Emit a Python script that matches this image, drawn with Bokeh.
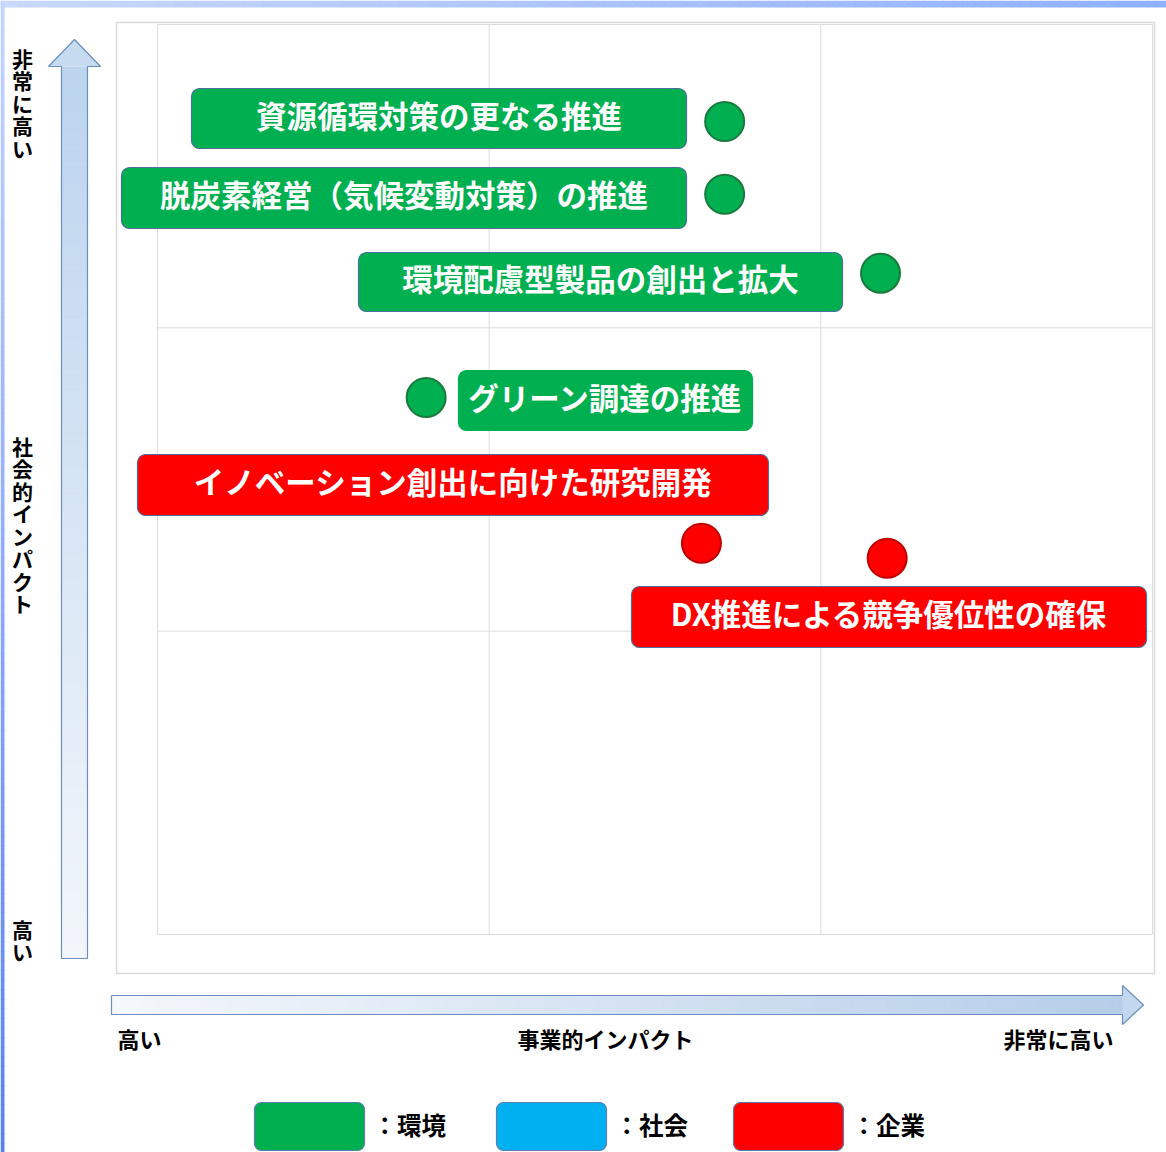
import numpy as np
from bokeh.plotting import figure
from bokeh.models import Range1d
from bokeh.embed import file_html
from bokeh.resources import INLINE
from bokeh.core.properties import value

# ---------------- data ----------------
labels = [
    "資源循環対策の更なる推進",
    "脱炭素経営（気候変動対策）の推進",
    "環境配慮型製品の創出と拡大",
    "グリーン調達の推進",
    "イノベーション創出に向けた研究開発",
    "DX推進による競争優位性の確保",
]
categories = ["環境", "環境", "環境", "環境", "企業", "企業"]
business_impact = [1.71, 1.71, 2.18, 0.81, 1.64, 2.20]   # x, 0..3
social_impact = [2.68, 2.44, 2.18, 1.77, 1.29, 1.24]     # y, 0..3
legend_names = ["環境", "社会", "企業"]
x_tick_labels = ["高い", "事業的インパクト", "非常に高い"]
y_tick_labels = ["非常に高い", "社会的インパクト", "高い"]
grid_levels = [0, 1, 2, 3]

# ---------------- styles ----------------
FILL = {"環境": "#00b050", "社会": "#00b0f0", "企業": "#ff0000"}
EDGE = {"環境": "#1a7a3e", "社会": "#2f7fb0", "企業": "#c00000"}
FONT = value("Noto Sans CJK JP")

# pixel -> data helpers (layout only)
SX = 995 / 3.0
SY = 910 / 3.0
def X(px):
    return (px - 157) / SX
def Y(py):
    return (934 - py) / SY

# label box layout (pixel l, r, t, b)
box_layout = [
    (191, 686, 88, 148),
    (121, 686, 167, 228),
    (358, 842, 252, 311),
    (458, 752, 370, 430),
    (137, 768, 454, 515),
    (631, 1146, 586, 647),
]
box_border = [True, True, True, False, True, True]

p = figure(width=1166, height=1152, output_backend="svg", toolbar_location=None,
           x_range=Range1d(X(0), X(1166)), y_range=Range1d(Y(1152), Y(0)),
           x_axis_type=None, y_axis_type=None, min_border=0)
p.outline_line_color = None
p.background_fill_color = "white"
p.border_fill_color = "white"
p.grid.visible = False


def hexmix(c0, c1, t):
    a = np.array([int(c0[i:i + 2], 16) for i in (1, 3, 5)], float)
    b = np.array([int(c1[i:i + 2], 16) for i in (1, 3, 5)], float)
    c = a + (b - a) * t
    return "#%02x%02x%02x" % tuple(int(round(v)) for v in c)


def grad_h(l, r, t, b, c0, c1, n):
    xs = np.linspace(l, r, n + 1)
    cols = [hexmix(c0, c1, i / (n - 1)) for i in range(n)]
    p.quad(left=[X(v) for v in xs[:-1]], right=[X(v + 0.6) for v in xs[1:]],
           top=Y(t), bottom=Y(b), fill_color=cols, line_color=None)


def grad_v(l, r, t, b, c0, c1, n):
    ys = np.linspace(t, b, n + 1)
    cols = [hexmix(c0, c1, i / (n - 1)) for i in range(n)]
    p.quad(left=X(l), right=X(r), top=[Y(v) for v in ys[:-1]],
           bottom=[Y(v + 0.6) for v in ys[1:]], fill_color=cols, line_color=None)


# frame strips
grad_h(0, 1166, 0, 7, "#c8d8ff", "#8fb0fc", 120)
grad_v(0, 4, 0, 1152, "#c4d4ff", "#5a82ec", 120)

# outer box
p.quad(left=X(116), right=X(1154), top=Y(22), bottom=Y(973),
       fill_color=None, line_color="#d9d9d9", line_width=1.5)

# grid
p.segment(x0=grid_levels, x1=grid_levels, y0=0, y1=3, line_color="#dcdcdc", line_width=1)
p.segment(x0=0, x1=3, y0=grid_levels, y1=grid_levels, line_color="#dcdcdc", line_width=1)

# vertical arrow
grad_v(61, 87, 66, 958, "#bcd4ee", "#f2f6fb", 120)
p.patch(x=[X(48), X(74), X(100)], y=[Y(66), Y(39), Y(66)], fill_color="#c6daf0", line_color=None)
p.line(x=[X(61), X(61), X(48), X(74), X(100), X(87), X(87), X(61)],
       y=[Y(958), Y(66), Y(66), Y(39), Y(66), Y(66), Y(958), Y(958)],
       line_color="#6a8fbf", line_width=1.2)

# horizontal arrow
grad_h(111, 1122, 995, 1014, "#f4f7fb", "#b6cee9", 140)
p.patch(x=[X(1122), X(1143), X(1122)], y=[Y(985), Y(1004.5), Y(1024)], fill_color="#c3d8ee", line_color=None)
p.line(x=[X(111), X(1122), X(1122), X(1143), X(1122), X(1122), X(111), X(111)],
       y=[Y(995), Y(995), Y(985), Y(1004.5), Y(1024), Y(1014), Y(1014), Y(995)],
       line_color="#6a8fbf", line_width=1.2)

# label boxes
for (l, r, t, b), cat, txt, bd in zip(box_layout, categories, labels, box_border):
    p.quad(left=X(l), right=X(r), top=Y(t), bottom=Y(b), fill_color=FILL[cat],
           line_color="#4a6fa0" if bd else FILL[cat], line_width=1.2, border_radius=8)
    p.text(x=[X((l + r) / 2)], y=[Y((t + b) / 2 - 4)], text=[txt], text_font=FONT,
           text_font_style="bold", text_font_size="30.5px", text_color="white",
           text_align="center", text_baseline="middle")

# points
p.scatter(x=business_impact, y=social_impact, size=39,
          fill_color=[FILL[c] for c in categories],
          line_color=[EDGE[c] for c in categories], line_width=2)

# y axis labels (vertical)
for txt, top in zip(y_tick_labels, [42, 430, 913]):
    p.text(x=[X(22)], y=[Y(top)], text=["\n".join(txt)], text_font=FONT,
           text_font_style="bold", text_font_size="21px", text_color="black",
           text_align="center", text_baseline="top", text_line_height=0.75)

# x axis labels
for txt, xx, al in zip(x_tick_labels, [117, 605, 1113], ["left", "center", "right"]):
    p.text(x=[X(xx)], y=[Y(1037)], text=[txt], text_font=FONT,
           text_font_style="bold", text_font_size="22px", text_color="black",
           text_align=al, text_baseline="middle")

# legend
for name, lx in zip(legend_names, [254, 496, 733]):
    p.quad(left=X(lx), right=X(lx + 110), top=Y(1102), bottom=Y(1150),
           fill_color=FILL[name], line_color="#5a7fae", line_width=1.2, border_radius=7)
    p.text(x=[X(lx + 118)], y=[Y(1124)], text=["：" + name], text_font=FONT,
           text_font_style="bold", text_font_size="24.5px", text_color="black",
           text_align="left", text_baseline="middle")

open("out.html", "w").write(file_html(p, INLINE))
